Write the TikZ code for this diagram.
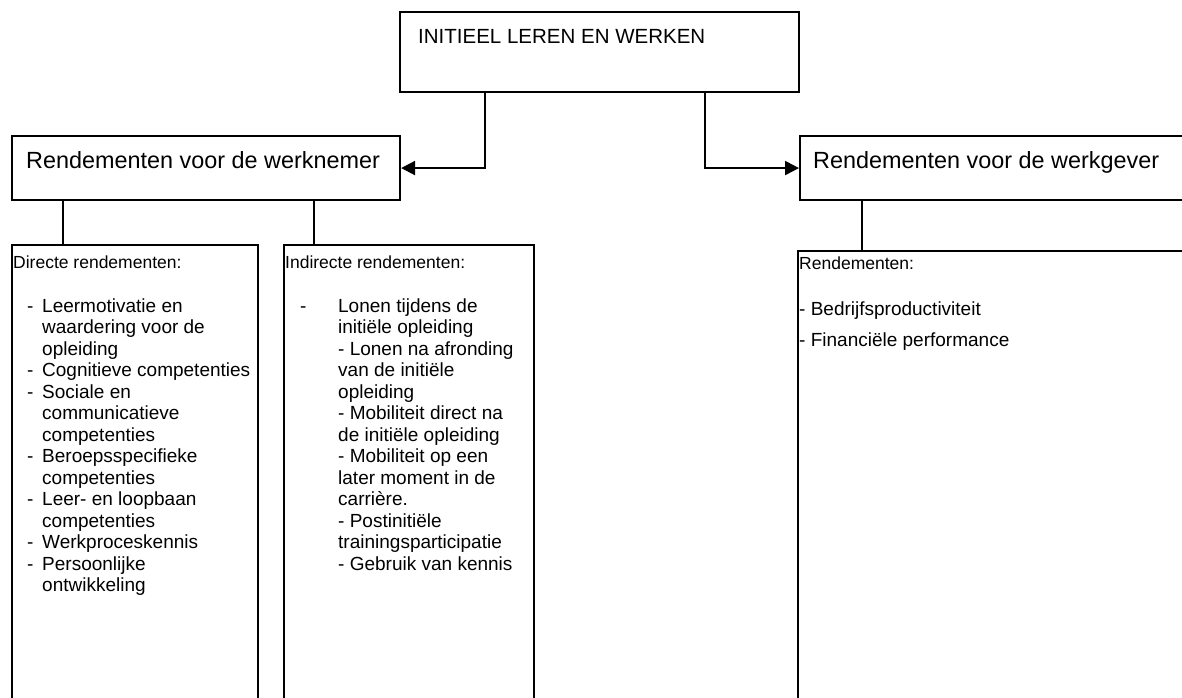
\documentclass[tikz,border=0pt]{standalone}
\usepackage{fontspec}
\setmainfont{Liberation Sans}
\usetikzlibrary{arrows.meta}
\tikzset{
  box/.style={draw, line width=2.1pt, anchor=north west, inner sep=0pt},
  txt/.style={anchor=base west, inner sep=0pt},
  link/.style={line width=2.1pt},
  arr/.style={link, -{Triangle[length=14pt,width=14pt]}},
}
\newcommand{\fsz}[2]{\fontsize{#1}{#2}\selectfont}

\begin{document}
\begin{tikzpicture}[x=1pt,y=-1pt]
\useasboundingbox (0,0) rectangle (1182,697);
\clip (0,0) rectangle (1182,697);
\node[box, minimum width=399pt, minimum height=80pt] (init) at (399,11) {};
\node[box, minimum width=388pt, minimum height=64pt] (wn) at (11,135) {};
\node[box, minimum width=420pt, minimum height=64pt] (wg) at (799,135) {};
\node[box, minimum width=246pt, minimum height=480pt] (direct) at (11,244) {};
\node[box, minimum width=250pt, minimum height=480pt] (indirect) at (283,244) {};
\node[box, minimum width=420pt, minimum height=480pt] (rend) at (797,250) {};
\node[txt, font=\fsz{20.5}{24}] (inittxt) at (418,43) {INITIEEL LEREN EN WERKEN};
\node[txt, font=\fsz{23.4}{28}] (wntxt) at (26,168) {Rendementen voor de werknemer};
\node[txt, font=\fsz{23.4}{28}] (wgtxt) at (813,168) {Rendementen voor de werkgever};
\node[txt, font=\fsz{17.5}{20}] (directhd) at (13,268) {Directe rendementen:};
\node[txt, font=\fsz{17.5}{20}] (indirecthd) at (285,268) {Indirecte rendementen:};
\node[txt, font=\fsz{17.5}{20}] (rendhd) at (799,269) {Rendementen:};
\node[txt, font=\fsz{19}{21.5}] (directlist) at (27,312) {\begin{tabular}[t]{@{}p{15pt}@{}l@{}}
  - & Leermotivatie en\\ & waardering voor de\\ & opleiding\\
  - & Cognitieve competenties\\
  - & Sociale en\\ & communicatieve\\ & competenties\\
  - & Beroepsspecifieke\\ & competenties\\
  - & Leer- en loopbaan\\ & competenties\\
  - & Werkproceskennis\\
  - & Persoonlijke\\ & ontwikkeling
\end{tabular}};
\node[txt, font=\fsz{19}{21.5}] (indirectlist) at (300,312) {\begin{tabular}[t]{@{}p{38pt}@{}l@{}}
  - & Lonen tijdens de\\ & initiële opleiding\\
  & - Lonen na afronding\\ & van de initiële\\ & opleiding\\
  & - Mobiliteit direct na\\ & de initiële opleiding\\
  & - Mobiliteit op een\\ & later moment in de\\ & carrière.\\
  & - Postinitiële\\ & trainingsparticipatie\\
  & - Gebruik van kennis
\end{tabular}};
\node[txt, font=\fsz{19}{31}] (rendlist) at (799,315) {\begin{tabular}[t]{@{}l@{}}
  - Bedrijfsproductiviteit\\ - Financiële performance
\end{tabular}};
\coordinate (l) at (485,0);
\coordinate (r) at (705,0);
\draw[arr] (init.south -| l) |- (wn.east);
\draw[arr] (init.south -| r) |- (wg.west);
\foreach \x/\b in {63/direct, 314/indirect}
  \draw[link] (wn.south -| \x,0) -- (\b.north -| \x,0);
\draw[link] (wg.south -| 862,0) -- (rend.north -| 862,0);
\end{tikzpicture}
\end{document}
